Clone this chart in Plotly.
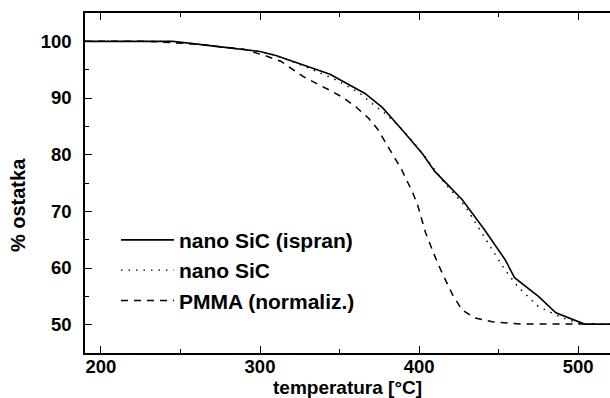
import plotly.graph_objects as go

# Thermogravimetric curves: residual mass (%) vs temperature (°C)
t_ispran = [190, 245, 270, 300, 310, 328, 344, 366, 377, 389, 396, 402, 410, 416, 427,
            441, 454, 460, 475, 486, 504, 520]
m_ispran = [100, 100, 99.2, 98.2, 97.5, 95.8, 94.2, 90.8, 88.3, 84.5, 82.1, 80.2, 77.0,
            75.3, 72.1, 66.8, 61.5, 58.3, 55.0, 52.1, 50.1, 50.1]

t_sic = [190, 245, 270, 300, 310, 328, 347, 362, 371, 379, 390, 402, 416, 429, 446, 454,
         462, 475, 490, 502, 520]
m_sic = [100, 100, 99.2, 98.2, 97.5, 95.6, 93.3, 91.0, 88.9, 87.2, 84.3, 80.3, 75.0,
         70.9, 63.2, 59.7, 56.7, 53.2, 51.2, 50.1, 50.1]

t_pmma = [190, 230, 260, 290, 304, 313, 327, 335, 345, 352, 360, 368, 374, 379, 384, 389,
          392.5, 396, 399, 404, 410, 414.5, 421, 427, 435, 446, 465, 510]
m_pmma = [100, 100, 99.5, 98.6, 97.4, 96.5, 93.8, 92.7, 91.2, 90.1, 88.5, 86.5, 84.5,
          82.1, 79.7, 77.4, 75.3, 73.3, 71.2, 66.3, 62.0, 59.1, 55.3, 52.6, 51.2, 50.5,
          50.1, 50.1]

series_names = ["nano SiC (ispran)", "nano SiC", "PMMA (normaliz.)"]

x_ticks = [200, 300, 400, 500]
y_ticks = [50, 60, 70, 80, 90, 100]

font_family = "Liberation Sans, Arial, sans-serif"

fig = go.Figure()
fig.add_trace(go.Scatter(x=t_ispran, y=m_ispran, mode="lines", name=series_names[0],
                         line=dict(color="black", width=1.6, dash="solid")))
fig.add_trace(go.Scatter(x=t_sic, y=m_sic, mode="lines", name=series_names[1],
                         line=dict(color="black", width=1.4, dash="1.5px,6px")))
fig.add_trace(go.Scatter(x=t_pmma, y=m_pmma, mode="lines", name=series_names[2],
                         line=dict(color="black", width=1.5, dash="7px,6px")))

axis_common = dict(showgrid=False, zeroline=False, showline=True, linecolor="black",
                   linewidth=1.5, ticks="inside", tickcolor="black", ticklen=7,
                   tickwidth=1.2,
                   tickfont=dict(family=font_family, size=18.5, color="black",
                                 weight="bold"))

fig.update_xaxes(range=[190, 520], tickvals=x_ticks, mirror="ticks",
                 minor=dict(dtick=50, ticks="inside", ticklen=4, tickcolor="black",
                            tickwidth=1),
                 ticklabelstandoff=-4, **axis_common)
fig.update_yaxes(range=[45, 105], tickvals=y_ticks,
                 minor=dict(dtick=5, ticks="inside", ticklen=4, tickcolor="black",
                            tickwidth=1),
                 ticklabelstandoff=8, **axis_common)

fig.add_annotation(text="temperatura [°C]", xref="paper", yref="paper", x=0.5, y=0,
                   yshift=-22, xanchor="center", yanchor="top", showarrow=False,
                   font=dict(family=font_family, size=19, color="black", weight="bold"))
fig.add_annotation(text="% ostatka", xref="paper", yref="paper", x=0, y=0.435,
                   xshift=-67, xanchor="center", yanchor="middle", textangle=-90,
                   showarrow=False,
                   font=dict(family=font_family, size=20, color="black", weight="bold"))

fig.update_layout(
    width=610, height=398,
    margin=dict(l=85, r=0, t=13, b=45),
    plot_bgcolor="white", paper_bgcolor="white",
    legend=dict(x=0.059, y=0.392, xanchor="left", yanchor="top",
                bgcolor="rgba(0,0,0,0)", tracegroupgap=0,
                itemwidth=53,
                font=dict(family=font_family, size=21, color="black", weight="bold")),
)

fig.write_html("out.html")
